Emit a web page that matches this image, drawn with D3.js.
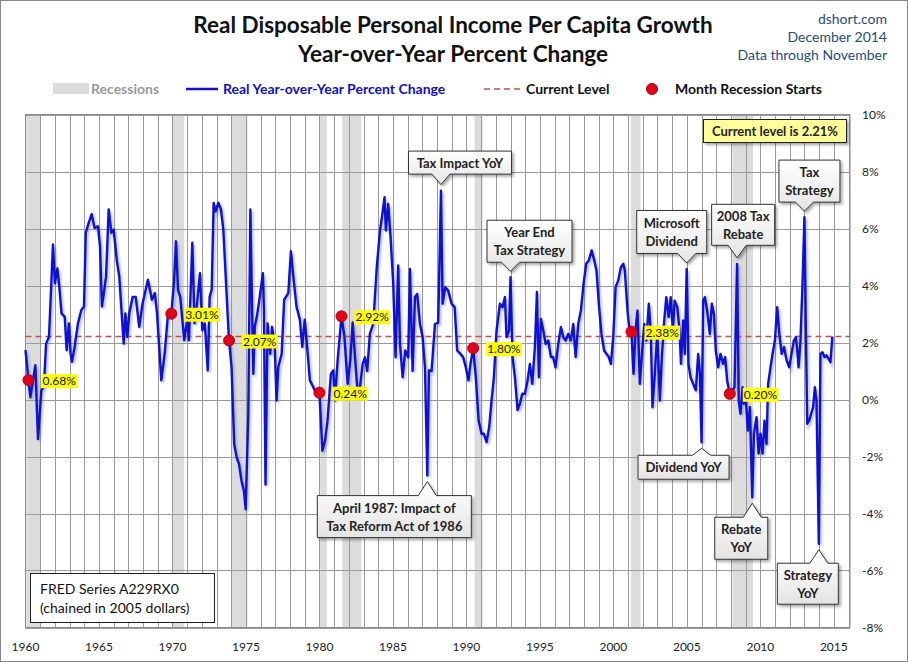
<!DOCTYPE html>
<html>
<head>
<meta charset="utf-8">
<script src="https://cdn.jsdelivr.net/npm/d3@7"></script>
<style>
  body { margin: 0; background: #fff; }
  svg { display: block; font-family: Lato, "Open Sans", sans-serif; }
</style>
</head>
<body>
<svg id="chart" width="908" height="662"></svg>
<script>
// monthly-ish readings of the YoY series (decimal year, percent)
const dates = [
  1960.00, 1960.20, 1960.33, 1960.67, 1960.85, 1961.08, 1961.25, 1961.40, 1961.60, 1961.87,
  1962.00, 1962.17, 1962.30, 1962.45, 1962.67, 1962.80, 1962.95, 1963.07, 1963.16, 1963.35,
  1963.40, 1963.57, 1963.80, 1963.98, 1964.10, 1964.30, 1964.50, 1964.70, 1964.93, 1965.07,
  1965.20, 1965.33, 1965.48, 1965.66, 1965.84, 1966.00, 1966.22, 1966.38, 1966.68, 1966.80,
  1966.93, 1967.06, 1967.29, 1967.50, 1967.74, 1967.97, 1968.33, 1968.60, 1968.80, 1968.95,
  1969.24, 1969.47, 1969.70, 1969.92, 1970.10, 1970.24, 1970.38, 1970.53, 1970.80, 1971.00,
  1971.12, 1971.35, 1971.50, 1971.65, 1971.87, 1972.03, 1972.20, 1972.40, 1972.53, 1972.67,
  1972.80, 1972.94, 1973.12, 1973.30, 1973.46, 1973.60, 1973.75, 1973.85, 1974.02, 1974.20,
  1974.37, 1974.53, 1974.70, 1974.86, 1974.98, 1975.16, 1975.30, 1975.38, 1975.50, 1975.60,
  1975.74, 1975.94, 1976.15, 1976.22, 1976.33, 1976.47, 1976.65, 1976.78, 1976.96, 1977.08,
  1977.20, 1977.43, 1977.60, 1977.88, 1978.06, 1978.20, 1978.44, 1978.67, 1978.83, 1979.00,
  1979.20, 1979.35, 1979.58, 1979.80, 1980.00, 1980.20, 1980.38, 1980.55, 1980.78, 1980.94,
  1981.05, 1981.24, 1981.50, 1981.70, 1981.92, 1982.10, 1982.26, 1982.42, 1982.57, 1982.76,
  1982.94, 1983.10, 1983.25, 1983.43, 1983.66, 1983.90, 1984.12, 1984.28, 1984.43, 1984.52,
  1984.68, 1984.84, 1985.02, 1985.18, 1985.36, 1985.48, 1985.66, 1985.84, 1986.04, 1986.16,
  1986.34, 1986.50, 1986.65, 1986.84, 1987.02, 1987.18, 1987.34, 1987.45, 1987.63, 1987.86,
  1988.08, 1988.27, 1988.38, 1988.56, 1988.76, 1988.99, 1989.20, 1989.37, 1989.60, 1989.78,
  1989.96, 1990.14, 1990.28, 1990.46, 1990.64, 1990.83, 1991.03, 1991.19, 1991.37, 1991.55,
  1991.71, 1991.87, 1992.05, 1992.28, 1992.46, 1992.62, 1992.73, 1992.90, 1993.00, 1993.14,
  1993.30, 1993.48, 1993.64, 1993.80, 1993.98, 1994.16, 1994.32, 1994.48, 1994.66, 1994.80,
  1994.93, 1995.07, 1995.23, 1995.39, 1995.57, 1995.75, 1995.90, 1996.06, 1996.25, 1996.43,
  1996.59, 1996.75, 1996.93, 1997.11, 1997.27, 1997.43, 1997.61, 1997.79, 1997.97, 1998.15,
  1998.33, 1998.52, 1998.70, 1998.85, 1999.01, 1999.19, 1999.37, 1999.53, 1999.69, 1999.83,
  1999.99, 2000.15, 2000.33, 2000.51, 2000.67, 2000.78, 2000.96, 2001.12, 2001.23, 2001.37,
  2001.50, 2001.64, 2001.80, 2001.96, 2002.10, 2002.25, 2002.41, 2002.55, 2002.66, 2002.82,
  2002.99, 2003.16, 2003.30, 2003.44, 2003.60, 2003.76, 2003.90, 2004.05, 2004.17, 2004.35,
  2004.50, 2004.60, 2004.75, 2004.86, 2004.99, 2005.11, 2005.25, 2005.43, 2005.61, 2005.77,
  2005.89, 2006.00, 2006.11, 2006.22, 2006.38, 2006.56, 2006.70, 2006.84, 2006.97, 2007.13,
  2007.29, 2007.47, 2007.61, 2007.74, 2007.92, 2008.10, 2008.24, 2008.42, 2008.53, 2008.65,
  2008.79, 2008.88, 2009.01, 2009.15, 2009.29, 2009.45, 2009.56, 2009.74, 2009.88, 2010.01,
  2010.15, 2010.28, 2010.42, 2010.53, 2010.69, 2010.83, 2010.99, 2011.15, 2011.29, 2011.45,
  2011.61, 2011.79, 2011.97, 2012.12, 2012.28, 2012.42, 2012.51, 2012.60, 2012.73, 2012.87,
  2013.00, 2013.10, 2013.19, 2013.32, 2013.46, 2013.59, 2013.71, 2013.82, 2013.98, 2014.09,
  2014.23, 2014.36, 2014.50, 2014.64, 2014.77, 2014.90
];
const yoy = [
  1.73, 0.68, 0.08, 1.20, -1.39, 0.32, 0.44, 1.96, 2.20, 5.44,
  4.08, 4.60, 3.96, 3.02, 2.90, 1.73, 2.67, 1.60, 1.32, 1.85,
  2.08, 2.67, 3.14, 3.26, 5.85, 6.20, 6.50, 6.02, 6.08, 5.38,
  3.26, 3.73, 4.32, 6.67, 5.85, 5.96, 4.85, 4.32, 1.96, 3.02,
  2.20, 3.02, 3.60, 3.60, 2.55, 3.38, 4.20, 3.50, 3.73, 3.02,
  0.67, 1.61, 3.02, 3.01, 4.08, 5.55, 3.85, 3.60, 2.08, 2.80,
  2.08, 5.50, 2.67, 3.26, 4.43, 2.43, 2.67, 1.02, 3.60, 3.85,
  6.90, 6.60, 6.90, 6.67, 5.96, 4.55, 3.02, 2.07, 1.14, -1.56,
  -2.03, -2.27, -2.86, -3.20, -3.85, -0.50, 6.67, 4.20, 0.90, 2.55,
  2.90, 3.60, 4.43, 3.26, -2.98, 2.67, 1.60, 2.55, 1.85, -0.04,
  1.14, 1.60, 3.50, 3.73, 5.20, 4.43, 3.26, 2.80, 1.85, 2.80,
  1.60, 0.67, 0.44, 0.20, 0.24, -1.80, -1.45, -0.74, 0.90, 1.02,
  -0.04, 1.38, 2.92, 2.20, 0.55, 1.38, 2.70, 1.48, 0.43, 0.43,
  1.25, 1.48, 1.00, 2.30, 2.65, 4.64, 5.93, 6.50, 7.10, 5.93,
  6.86, 5.70, 4.06, 1.48, 4.70, 1.95, 0.78, 1.72, 1.48, 4.58,
  1.00, 3.60, 3.70, 2.65, 2.19, 1.13, -2.67, 1.02, 1.00, 2.65,
  2.70, 7.33, 3.36, 3.94, 3.82, 3.36, 3.24, 1.72, 1.60, 1.48,
  1.13, 0.67, 1.25, 1.80, 0.78, -0.74, -1.20, -1.20, -1.50, -0.97,
  -0.04, 0.78, 2.42, 3.36, 3.24, 3.60, 2.19, 2.42, 4.29, 1.48,
  0.78, -0.37, -0.15, 0.20, 0.20, 0.67, 1.25, 0.55, 1.84, 3.77,
  0.78, 2.83, 2.42, 1.95, 2.07, 1.49, 1.49, 1.13, 1.95, 2.54,
  2.19, 2.07, 2.30, 2.07, 2.65, 1.49, 2.65, 3.12, 4.06, 4.76,
  4.88, 5.23, 4.88, 4.53, 3.36, 2.30, 1.72, 1.60, 1.49, 1.25,
  2.19, 3.94, 4.18, 4.64, 4.76, 4.53, 3.12, 2.30, 2.38, 0.90,
  2.42, 3.12, 0.55, 1.72, 2.65, 2.07, 3.36, 2.30, -0.27, 0.90,
  2.42, -0.04, 1.49, 2.65, 3.59, 2.89, 3.59, 2.42, 3.47, 3.24,
  2.42, 1.25, 2.77, 1.60, 4.58, 1.25, 0.78, 0.55, 0.32, 1.60,
  0.90, -1.50, 3.47, 3.59, 3.12, 2.30, 3.36, 3.00, 1.72, 1.13,
  1.60, 1.25, 1.49, 0.67, 0.20, 0.32, 0.43, 4.76, -0.04, -0.50,
  0.43, -0.15, 0.08, -1.09, -0.27, -3.43, -1.20, -0.62, -1.90, -1.20,
  -1.90, -0.74, -1.56, 0.55, 1.13, 1.60, 2.07, 3.24, 2.30, 1.60,
  1.84, 1.37, 1.13, 1.60, 2.07, 2.19, 1.72, 1.13, 2.07, 4.06,
  6.40, 2.30, -0.85, -0.74, -0.50, -0.27, 0.43, -0.04, -5.06, 1.60,
  1.66, 1.49, 1.55, 1.43, 1.31, 2.21
];

const recStart = [1960.05, 1970.0, 1974.0, 1980.05, 1981.55, 1990.55, 2001.2, 2008.1];
const recEnd   = [1961.0, 1970.8, 1975.1, 1980.5, 1982.85, 1991.1, 2001.85, 2009.5];

const dotDates  = [1960.20, 1969.92, 1973.85, 1980.00, 1981.50, 1990.46, 2001.23, 2007.92];
const dotValues = [0.68, 3.01, 2.07, 0.24, 2.92, 1.80, 2.38, 0.20];

const currentLevel = 2.21;
const yTicks = [-8, -6, -4, -2, 0, 2, 4, 6, 8, 10];
const xTickYears = [1960, 1965, 1970, 1975, 1980, 1985, 1990, 1995, 2000, 2005, 2010, 2015];

// callouts: tip at a data point, box offset from the tip
const notes = [
  { text: ["Tax Impact YoY"], date: 1988.27, value: 7.33, side: "above", dx: 19, dy: -22, w: 103, h: 23 },
  { text: ["Year End", "Tax Strategy"], date: 1993.00, value: 4.29, side: "above", dx: 19, dy: -30, w: 85, h: 42 },
  { text: ["Microsoft", "Dividend"], date: 2004.99, value: 4.58, side: "above", dx: -15, dy: -31, w: 70, h: 43 },
  { text: ["2008 Tax", "Rebate"], date: 2008.42, value: 4.76, side: "above", dx: 6, dy: -33, w: 63, h: 41 },
  { text: ["Tax", "Strategy"], date: 2013.00, value: 6.40, side: "above", dx: 5, dy: -30, w: 61, h: 42 },
  { text: ["April 1987:  Impact of", "Tax Reform Act of 1986"], date: 1987.34, value: -2.67, side: "below", dx: -33, dy: 35, w: 154, h: 42 },
  { text: ["Dividend YoY"], date: 2006.00, value: -1.50, side: "below", dx: -18, dy: 19, w: 91, h: 24 },
  { text: ["Rebate", "YoY"], date: 2009.45, value: -3.43, side: "below", dx: -11, dy: 35, w: 53, h: 42 },
  { text: ["Strategy", "YoY"], date: 2013.98, value: -5.06, side: "below", dx: -11, dy: 34, w: 61, h: 41 }
];

const svg = d3.select("#chart");
const W = 908, H = 662;
const plot = { left: 25.5, right: 850, top: 114.5, bottom: 627.5 };

const x = d3.scaleLinear().domain([1960, 2016.1]).range([plot.left, plot.right]);
const y = d3.scaleLinear().domain([-8, 10]).range([plot.bottom, plot.top]);

const defs = svg.append("defs");
const shadow = defs.append("filter").attr("id", "shadow")
  .attr("x", "-20%").attr("y", "-20%").attr("width", "150%").attr("height", "160%");
shadow.append("feDropShadow").attr("dx", 2).attr("dy", 2).attr("stdDeviation", 1.5)
  .attr("flood-color", "#000").attr("flood-opacity", 0.35);
const lineShadow = defs.append("filter").attr("id", "lineShadow");
lineShadow.append("feGaussianBlur").attr("stdDeviation", 1.2);
const grad = defs.append("linearGradient").attr("id", "boxGrad")
  .attr("x1", 0).attr("y1", 0).attr("x2", 0).attr("y2", 1);
grad.append("stop").attr("offset", "0%").attr("stop-color", "#ffffff");
grad.append("stop").attr("offset", "100%").attr("stop-color", "#e4e4e4");

// outer frame
svg.append("rect").attr("x", 0.5).attr("y", 0.5).attr("width", W - 1).attr("height", H - 1)
  .attr("fill", "#fff").attr("stroke", "#888");

// titles
svg.append("text").attr("x", 453).attr("y", 33).attr("text-anchor", "middle")
  .attr("font-size", 22.5).attr("font-weight", "bold").attr("fill", "#111")
  .text("Real Disposable Personal Income Per Capita Growth");
svg.append("text").attr("x", 453).attr("y", 62).attr("text-anchor", "middle")
  .attr("font-size", 22.5).attr("font-weight", "bold").attr("fill", "#111")
  .text("Year-over-Year Percent Change");

const corner = ["dshort.com", "December 2014", "Data through November"];
svg.append("g").selectAll("text").data(corner).join("text")
  .attr("x", 887).attr("y", (d, i) => 24 + i * 18)
  .attr("text-anchor", "end").attr("font-size", 14).attr("fill", "#1f4e79").text(d => d);

// legend
const lg = svg.append("g").attr("font-size", 14).attr("font-weight", "bold");
lg.append("rect").attr("x", 53).attr("y", 83).attr("width", 36).attr("height", 11).attr("fill", "#dcdcdc");
lg.append("text").attr("x", 91).attr("y", 94).attr("fill", "#999").text("Recessions");
lg.append("line").attr("x1", 186).attr("x2", 218).attr("y1", 89).attr("y2", 89)
  .attr("stroke", "#1010c8").attr("stroke-width", 2.5);
lg.append("text").attr("x", 223).attr("y", 94).attr("fill", "#1010c8").text("Real Year-over-Year Percent Change");
lg.append("line").attr("x1", 484).attr("x2", 520).attr("y1", 89).attr("y2", 89)
  .attr("stroke", "#c0504d").attr("stroke-width", 1.5).attr("stroke-dasharray", "6,4");
lg.append("text").attr("x", 526).attr("y", 94).attr("fill", "#111").text("Current Level");
lg.append("circle").attr("cx", 652).attr("cy", 89).attr("r", 5.5)
  .attr("fill", "#e3001b").attr("stroke", "#a00");
lg.append("text").attr("x", 675).attr("y", 94).attr("fill", "#111").text("Month Recession Starts");

// recession bands
svg.append("g").selectAll("rect").data(recStart).join("rect")
  .attr("x", (d) => x(d))
  .attr("width", (d, i) => x(recEnd[i]) - x(d))
  .attr("y", plot.top).attr("height", plot.bottom - plot.top)
  .attr("fill", "#dcdcdc");

// grid
const grid = svg.append("g").attr("stroke", "#9a9a9a").attr("stroke-width", 1);
grid.selectAll("line.v").data(d3.range(1961, 2017)).join("line")
  .attr("x1", d => Math.round(x(d)) + 0.5).attr("x2", d => Math.round(x(d)) + 0.5)
  .attr("y1", plot.top).attr("y2", plot.bottom);
grid.selectAll("line.h").data(yTicks).join("line")
  .attr("x1", plot.left).attr("x2", plot.right)
  .attr("y1", d => Math.round(y(d)) + 0.5).attr("y2", d => Math.round(y(d)) + 0.5);
svg.append("rect").attr("x", plot.left).attr("y", plot.top)
  .attr("width", plot.right - plot.left).attr("height", plot.bottom - plot.top)
  .attr("fill", "none").attr("stroke", "#8a8a8a");

// current level
svg.append("line").attr("x1", plot.left).attr("x2", plot.right)
  .attr("y1", y(currentLevel)).attr("y2", y(currentLevel))
  .attr("stroke", "#c0504d").attr("stroke-width", 1.5).attr("stroke-dasharray", "6,4");

// series
const series = dates.map((d, i) => [d, yoy[i]]);
const line = d3.line().x(d => x(d[0])).y(d => y(d[1]));
svg.append("path").datum(series).attr("d", line)
  .attr("fill", "none").attr("stroke", "#6070a0").attr("stroke-opacity", 0.45)
  .attr("stroke-width", 3).attr("transform", "translate(1.5,2)").attr("filter", "url(#lineShadow)");
svg.append("path").datum(series).attr("d", line)
  .attr("fill", "none").attr("stroke", "#1010d0").attr("stroke-width", 2.4)
  .attr("stroke-linejoin", "round");

// recession-start dots and labels
const dots = svg.append("g");
dotDates.forEach((d, i) => {
  const cx = x(d), cy = y(dotValues[i]);
  const label = dotValues[i].toFixed(2) + "%";
  const t = dots.append("text").attr("x", cx + 14).attr("y", cy + 5)
    .attr("font-size", 12).attr("fill", "#111").text(label);
  const bb = t.node().getBBox();
  dots.insert("rect", "text").attr("x", bb.x - 1).attr("y", bb.y + 1)
    .attr("width", bb.width + 2).attr("height", bb.height - 1).attr("fill", "#ffff00");
  dots.append("circle").attr("cx", cx).attr("cy", cy).attr("r", 5.5)
    .attr("fill", "#e3001b").attr("stroke", "#b00010").attr("stroke-width", 1);
});

// callouts
const calloutPath = (n) => {
  const tx = x(n.date);
  const ty = y(n.value) + (n.side === "above" ? -6 : 6);
  const cx = tx + n.dx, cy = ty + n.dy;
  const l = cx - n.w / 2, r = cx + n.w / 2, t = cy - n.h / 2, b = cy + n.h / 2;
  const p0 = Math.max(l + 3, tx - 9), p1 = Math.min(r - 3, tx + 9);
  if (n.side === "above") {
    return `M${l},${t}H${r}V${b}H${p1}L${tx},${ty}L${p0},${b}H${l}Z`;
  }
  return `M${l},${t}H${p0}L${tx},${ty}L${p1},${t}H${r}V${b}H${l}Z`;
};
const cg = svg.append("g");
notes.forEach(n => {
  const tx = x(n.date);
  const ty = y(n.value) + (n.side === "above" ? -6 : 6);
  const cx = tx + n.dx, cy = ty + n.dy;
  cg.append("path").attr("d", calloutPath(n))
    .attr("fill", "url(#boxGrad)").attr("stroke", "#333").attr("stroke-width", 1)
    .attr("filter", "url(#shadow)");
  const lh = 18;
  const y0 = cy - (n.text.length - 1) * lh / 2 + 5;
  n.text.forEach((s, j) => {
    cg.append("text").attr("x", cx).attr("y", y0 + j * lh).attr("text-anchor", "middle")
      .attr("font-size", 13).attr("font-weight", "bold").attr("fill", "#222").text(s);
  });
});

// current level box
svg.append("rect").attr("x", 703.5).attr("y", 119.5).attr("width", 143).attr("height", 23)
  .attr("fill", "#ffff99").attr("stroke", "#222").attr("filter", "url(#shadow)");
svg.append("text").attr("x", 775).attr("y", 136).attr("text-anchor", "middle")
  .attr("font-size", 13).attr("font-weight", "bold").attr("fill", "#222")
  .text("Current level is " + currentLevel.toFixed(2) + "%");

// source box
svg.append("rect").attr("x", 30.5).attr("y", 573.5).attr("width", 184).attr("height", 49)
  .attr("fill", "#fff").attr("stroke", "#222");
svg.append("text").attr("x", 40).attr("y", 594).attr("font-size", 14).attr("fill", "#111")
  .text("FRED Series A229RX0");
svg.append("text").attr("x", 40).attr("y", 613).attr("font-size", 14).attr("fill", "#111")
  .text("(chained in 2005 dollars)");

// axes labels
svg.append("g").selectAll("text").data(xTickYears).join("text")
  .attr("x", d => x(d)).attr("y", 651).attr("text-anchor", "middle")
  .attr("font-size", 12).attr("fill", "#222").text(d => d);
svg.append("g").selectAll("text").data(yTicks).join("text")
  .attr("x", 862).attr("y", d => y(d) + 4).attr("font-size", 12).attr("fill", "#222")
  .text(d => d + "%");
</script>
</body>
</html>
